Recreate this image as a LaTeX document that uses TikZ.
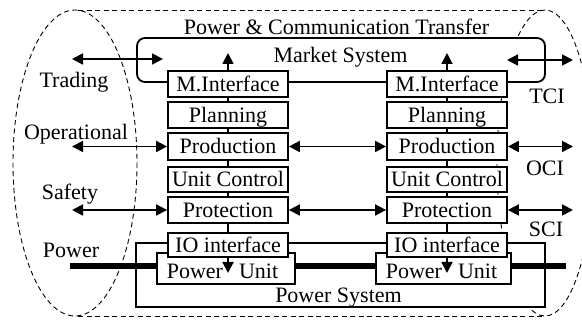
\documentclass[tikz,border=0pt]{standalone}
\usepackage{fontspec}
\setmainfont{Liberation Serif}
\usetikzlibrary{arrows.meta}
\begin{document}
\begin{tikzpicture}[x=1pt,y=-1pt,
  font=\fontsize{22}{26}\selectfont,
  box/.style={draw, line width=1.8pt, fill=white, minimum width=120pt, minimum height=26pt, inner sep=0pt, text height=15pt, text depth=0pt},
  sysbox/.style={draw, line width=1.8pt, fill=white, inner sep=0pt},
  lbl/.style={inner sep=0pt, text height=15pt, text depth=0pt},
  dsh/.style={line width=0.9pt, dash pattern=on 5pt off 3.5pt},
  dbl/.style={line width=1.8pt, {Triangle[length=11pt,width=11pt]}-{Triangle[length=11pt,width=11pt]}},
  uparr/.style={line width=1.8pt, -{Triangle[length=11pt,width=11pt]}},
  link/.style={line width=1.8pt},
  pline/.style={line width=5.5pt},
]
\useasboundingbox (0,0) rectangle (582,320);
\clip (0,0) rectangle (582,320);
% dashed outline
\draw[dsh] (75,163) ellipse [x radius=62, y radius=153];
\draw[dsh] (545,163) ellipse [x radius=48, y radius=153];
\draw[dsh] (78,10) -- (545,10);
\draw[dsh] (78,316) -- (545,316);
% market system
\node[sysbox, rounded corners=8pt, minimum width=408pt, minimum height=44pt] (market) at (341,60) {};
\node[lbl] (markett) at (340.5,55.5) {Market System};
\node[lbl] (title) at (336.5,27.5) {Power \& Communication Transfer};
% power system
\node[sysbox, minimum width=409pt, minimum height=64pt] (psys) at (340.5,275) {};
\node[lbl] (psyst) at (338.5,295.5) {Power System};
\coordinate (pwL) at (70,266);
\coordinate (pwR) at (566,266);
\draw[pline] (pwL) -- (pwR);
\node[sysbox, minimum width=138pt, minimum height=31pt] (pu1) at (226,268.5) {};
\node[sysbox, minimum width=135pt, minimum height=31pt] (pu2) at (443.5,268.5) {};
\node[lbl] (pu1t) at (222.5,271) {Power\hspace{16pt}Unit};
\node[lbl] (pu2t) at (441.5,271) {Power\hspace{16pt}Unit};
% columns
\foreach \c/\x in {1/228,2/447}{
  \node[box] (mi\c) at (\x,84) {M.Interface};
  \node[box] (pl\c) at (\x,115) {Planning};
  \node[box, minimum height=27pt] (pr\c) at (\x,146.5) {Production};
  \node[box, minimum height=25pt] (uc\c) at (\x,179.5) {Unit Control};
  \node[box] (pt\c) at (\x,210) {Protection};
  \node[box, minimum height=24pt] (io\c) at (\x,245) {IO interface};
  \draw[link] (mi\c) -- (pl\c);
  \draw[link] (pl\c) -- (pr\c);
  \draw[link] (pr\c) -- (uc\c);
  \draw[link] (uc\c) -- (pt\c);
  \draw[link] (pt\c) -- (io\c);
  \coordinate (u\c) at (\x,53);
  \coordinate (d\c) at (\x,273);
  \draw[uparr] (mi\c.north) -- (u\c);
  \draw[uparr] (io\c.south) -- (d\c);
}
% horizontal arrows
\coordinate (trL) at (72,59);
\coordinate (trR) at (163,59);
\draw[dbl] (trL) -- (trR);
\coordinate (tcL) at (507,60);
\coordinate (tcR) at (573,60);
\draw[dbl] (tcL) -- (tcR);
\coordinate (opL) at (72,146.5);
\coordinate (opR) at (573,146.5);
\draw[dbl] (opL) -- (pr1.west);
\draw[dbl] (pr1.east) -- (pr2.west);
\draw[dbl] (pr2.east) -- (opR);
\coordinate (saL) at (72,210);
\coordinate (saR) at (573,210);
\draw[dbl] (saL) -- (pt1.west);
\draw[dbl] (pt1.east) -- (pt2.west);
\draw[dbl] (pt2.east) -- (saR);
% labels
\node[lbl] (trading) at (74,80.5) {Trading};
\node[lbl] (oper) at (76,132.5) {Operational};
\node[lbl] (safety) at (70,192) {Safety};
\node[lbl] (power) at (71,250) {Power};
\node[lbl] (tci) at (547,96) {TCI};
\node[lbl] (oci) at (545,168) {OCI};
\node[lbl] (sci) at (546,229) {SCI};
\end{tikzpicture}
\end{document}
